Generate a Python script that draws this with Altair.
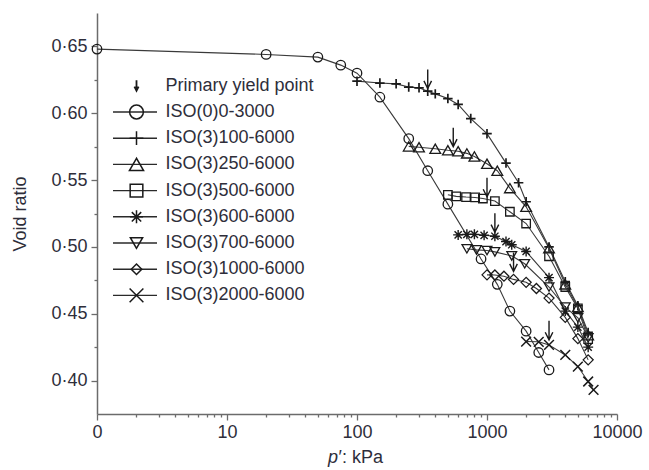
import altair as alt
import pandas as pd

FONT = "Liberation Sans"
INK = "#2e2e3a"
AXIS_GREY = "#6b6b6b"

# Isotropic compression tests: mean effective stress p' (kPa) and void ratio e
p_iso0 = [0, 20, 50, 75, 100, 150, 250, 350, 500, 900, 1200, 1500, 2000, 2500, 3000]
e_iso0 = [0.648, 0.644, 0.642, 0.636, 0.630, 0.612, 0.581, 0.557, 0.532, 0.491,
          0.472, 0.452, 0.437, 0.421, 0.408]

p_100 = [100, 150, 200, 250, 300, 350, 400, 500, 600, 750, 1000, 1400, 1750, 2000,
         3000, 4000, 5000, 6000]
e_100 = [0.624, 0.6226, 0.622, 0.6196, 0.619, 0.6165, 0.6145, 0.611, 0.6066, 0.596,
         0.5847, 0.5627, 0.548, 0.5338, 0.500, 0.474, 0.456, 0.436]

p_250 = [250, 300, 400, 500, 600, 700, 800, 1000, 1200, 1500, 2000, 3000, 4000, 5000, 6000]
e_250 = [0.5752, 0.5746, 0.5734, 0.5723, 0.5716, 0.570, 0.5677, 0.5622, 0.557, 0.544,
         0.530, 0.499, 0.472, 0.455, 0.434]

p_500 = [500, 580, 690, 810, 930, 1150, 1500, 2000, 3000, 4000, 5000, 6000]
e_500 = [0.539, 0.5378, 0.5373, 0.5370, 0.5362, 0.5343, 0.5263, 0.5175, 0.493, 0.470,
         0.454, 0.431]

p_600 = [600, 700, 800, 950, 1150, 1400, 1550, 2000, 3000, 4000, 5000, 6000]
e_600 = [0.509, 0.5094, 0.5094, 0.5087, 0.508, 0.504, 0.5016, 0.4966, 0.477, 0.452,
         0.440, 0.425]

p_700 = [700, 830, 1000, 1150, 1550, 1950, 3000, 4000, 5000, 6000]
e_700 = [0.4986, 0.4978, 0.4973, 0.4963, 0.4933, 0.4874, 0.470, 0.455, 0.447, 0.432]

p_1000 = [1000, 1150, 1350, 1600, 2000, 2400, 3000, 4000, 5000, 6000]
e_1000 = [0.4791, 0.479, 0.4781, 0.4757, 0.4735, 0.4689, 0.4617, 0.4473, 0.4314, 0.4155]

p_2000 = [2000, 2500, 3000, 4000, 5000, 6000, 6600]
e_2000 = [0.4292, 0.429, 0.4267, 0.4192, 0.4105, 0.3993, 0.393]

# Primary yield points
p_yield = [350, 550, 1000, 1150, 1600, 3000]
e_yield = [0.6185, 0.575, 0.5375, 0.511, 0.4816, 0.4305]

series_names = ["ISO(0)0-3000", "ISO(3)100-6000", "ISO(3)250-6000", "ISO(3)500-6000",
                "ISO(3)600-6000", "ISO(3)700-6000", "ISO(3)1000-6000", "ISO(3)2000-6000"]
series_p = [p_iso0, p_100, p_250, p_500, p_600, p_700, p_1000, p_2000]
series_e = [e_iso0, e_100, e_250, e_500, e_600, e_700, e_1000, e_2000]
yield_label = "Primary yield point"

# Axis ticks
x_decades = [1, 10, 100, 1000, 10000]
x_minor_mult = [2, 3, 4, 5, 6, 7, 8, 9]
y_major = [0.40, 0.45, 0.50, 0.55, 0.60, 0.65]
y_minor = [0.425, 0.475, 0.525, 0.575, 0.625]

# Marker glyphs (open symbols, thin strokes)
PLUS = "M-1,0H1M0,-1V1"
ASTER = "M-1,0H1M0,-1V1M-0.72,-0.72L0.72,0.72M-0.72,0.72L0.72,-0.72"
XMARK = "M-1,-1L1,1M-1,1L1,-1"
ARROW = "M0,-2V0M-0.4,-0.8L0,0L0.4,-0.8"
shapes = ["circle", PLUS, "triangle-up", "square", ASTER, "triangle-down", "diamond", XMARK]
data_sizes = [90, 90, 115, 72, 100, 95, 100, 95]
data_strokes = [1.3, 1.7, 1.3, 1.3, 1.4, 1.3, 1.3, 1.5]
legend_sizes = [190, 190, 200, 160, 170, 150, 110, 190]

rows = []
for name, ps, es in zip(series_names, series_p, series_e):
    for p, e in zip(ps, es):
        rows.append({"series": name, "p": p, "e": e})
df = pd.DataFrame(rows)
df_yield = pd.DataFrame({"p": p_yield, "e": e_yield})

x_ticks = [d * m for d in x_decades[:-1] for m in [1] + x_minor_mult] + [x_decades[-1]]
x_major_test = "indexof(%s, datum.value) >= 0" % str(x_decades)
y_major_test = "indexof(%s, datum.value) >= 0" % str(y_major)

x_axis = alt.Axis(
    values=x_ticks,
    labelExpr="datum.value == 1 ? '0' : (" + x_major_test + " ? format(datum.value, 'd') : '')",
    tickSize={"condition": {"test": x_major_test, "value": 6}, "value": 3},
    title=None, grid=False, labelOverlap=False, labelFlush=False,
    labelFont=FONT, labelFontSize=18, labelColor=INK, labelPadding=3,
    domainColor=AXIS_GREY, domainWidth=1.5, tickColor=AXIS_GREY, tickWidth=1.3,
)
y_axis = alt.Axis(
    values=y_major + y_minor,
    labelExpr=y_major_test + " ? replace(format(datum.value, '.2f'), '.', '·') : ''",
    tickSize={"condition": {"test": y_major_test, "value": 6}, "value": 3},
    grid=False, labelOverlap=False, labelFlush=False,
    labelFont=FONT, labelFontSize=18, labelColor=INK, labelPadding=4,
    domainColor=AXIS_GREY, domainWidth=1.5, tickColor=AXIS_GREY, tickWidth=1.3,
    title="Void ratio", titleFont=FONT, titleFontSize=18, titleFontWeight="normal",
    titleColor=INK, titleAngle=270, titleX=-77, titleY=200.5,
    titleAlign="center", titleBaseline="middle",
)

x_enc = alt.X("px:Q", scale=alt.Scale(type="log", domain=[1, 10000], nice=False), axis=x_axis)
y_enc = alt.Y("e:Q", scale=alt.Scale(domain=[0.375, 0.675], nice=False, zero=False), axis=y_axis)

base = alt.Chart(df).transform_calculate(px="max(datum.p, 1)")

data_layers = []
for name, shape, sz, sw in zip(series_names, shapes, data_sizes, data_strokes):
    sub = base.transform_filter(alt.datum.series == name)
    data_layers.append(
        sub.mark_line(color="#3a3a3a", strokeWidth=1.1).encode(x=x_enc, y=y_enc, order="p:Q")
    )
    data_layers.append(
        sub.mark_point(shape=shape, size=sz, filled=False, color="#1a1a1a",
                       strokeWidth=sw, opacity=1).encode(x=x_enc, y=y_enc)
    )

yield_layer = (
    alt.Chart(df_yield)
    .transform_calculate(px="datum.p")
    .mark_point(shape=ARROW, size=361, filled=False, color="#1a1a1a", strokeWidth=1.4, opacity=1)
    .encode(x=x_enc, y=y_enc)
)

plot_layer = alt.layer(*data_layers, yield_layer)

# Key drawn inside the plot area, one row per entry
legend_df = pd.DataFrame({
    "row": list(range(len(series_names) + 1)),
    "label": [yield_label] + series_names,
})
y_leg = alt.Y("row:Q", scale=alt.Scale(domain=[-2.779, 12.527], reverse=True, nice=False, zero=False),
              axis=None)
leg_base = alt.Chart(legend_df)

legend_parts = [
    leg_base.transform_filter("datum.row >= 1")
    .mark_rule(color="#2a2a2a", strokeWidth=1.4)
    .encode(x=alt.value(16), x2=alt.value(60), y=y_leg),
    leg_base.transform_filter("datum.row == 0")
    .mark_point(shape=ARROW, size=110, filled=False, color="#1a1a1a", strokeWidth=1.8, opacity=1,
                yOffset=5)
    .encode(x=alt.value(39.5), y=y_leg),
]
for i, (shape, sz) in enumerate(zip(shapes, legend_sizes)):
    legend_parts.append(
        leg_base.transform_filter("datum.row == %d" % (i + 1))
        .mark_point(shape=shape, size=sz, filled=False, color="#1a1a1a", strokeWidth=1.5, opacity=1)
        .encode(x=alt.value(39.5), y=y_leg)
    )
legend_parts.append(
    leg_base.mark_text(align="left", baseline="middle", font=FONT, fontSize=18, color=INK)
    .encode(x=alt.value(68.5), y=y_leg, text="label:N")
)
legend_layer = alt.layer(*legend_parts)

# x-axis title: italic p followed by the unit
title_df = pd.DataFrame({"sym": ["p"], "unit": ["′: kPa"]})
x_title_sym = alt.Chart(title_df).mark_text(
    align="right", baseline="alphabetic", font=FONT, fontSize=18, fontStyle="italic", color=INK
).encode(x=alt.value(241), y=alt.value(450), text="sym:N")
x_title_unit = alt.Chart(title_df).mark_text(
    align="left", baseline="alphabetic", font=FONT, fontSize=18, color=INK
).encode(x=alt.value(241.5), y=alt.value(450), text="unit:N")

chart = (
    alt.layer(plot_layer, legend_layer, x_title_sym, x_title_unit)
    .resolve_scale(y="independent")
    .properties(
        width=520, height=401,
        padding={"left": 97, "top": 13, "right": 32, "bottom": 56},
        autosize=alt.AutoSizeParams(type="none"),
        background="white",
    )
    .configure_view(stroke=None)
)

chart.save("out.html", embed_options={"renderer": "svg", "actions": False})
